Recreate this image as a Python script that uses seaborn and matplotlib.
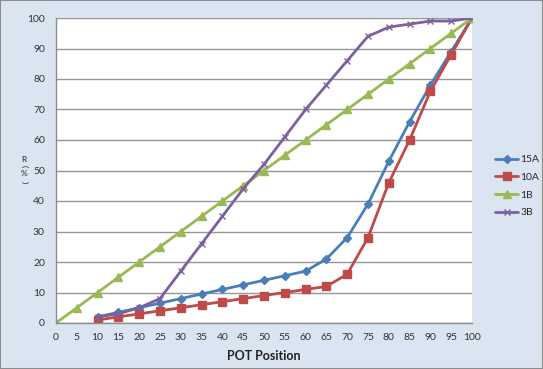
import numpy as np
import pandas as pd
import matplotlib
matplotlib.use("Agg")
import matplotlib.pyplot as plt
import seaborn as sns
from matplotlib.patches import Rectangle
from matplotlib.lines import Line2D

# ---- data ----
x_15a = [10, 15, 20, 25, 30, 35, 40, 45, 50, 55, 60, 65, 70, 75, 80, 85, 90, 95, 100]
y_15a = [2, 3.5, 5, 6.5, 8, 9.5, 11, 12.5, 14, 15.5, 17, 21, 28, 39, 53, 66, 78, 89, 100]
x_10a = [10, 15, 20, 25, 30, 35, 40, 45, 50, 55, 60, 65, 70, 75, 80, 85, 90, 95, 100]
y_10a = [1, 2, 3, 4, 5, 6, 7, 8, 9, 10, 11, 12, 16, 28, 46, 60, 76, 88, 100]
x_1b = [0, 5, 10, 15, 20, 25, 30, 35, 40, 45, 50, 55, 60, 65, 70, 75, 80, 85, 90, 95, 100]
y_1b = [0, 5, 10, 15, 20, 25, 30, 35, 40, 45, 50, 55, 60, 65, 70, 75, 80, 85, 90, 95, 100]
x_3b = [10, 15, 20, 25, 30, 35, 40, 45, 50, 55, 60, 65, 70, 75, 80, 85, 90, 95, 100]
y_3b = [2, 3, 5, 8, 17, 26, 35, 44, 52, 61, 70, 78, 86, 94, 97, 98, 99, 99, 100]
series_names = ["15A", "10A", "1B", "3B"]
x_ticks = list(range(0, 101, 5))
y_ticks = list(range(0, 101, 10))

frames = []
for name, xs, ys in zip(series_names, [x_15a, x_10a, x_1b, x_3b], [y_15a, y_10a, y_1b, y_3b]):
    frames.append(pd.DataFrame({"x": xs, "y": ys, "series": name}))
df = pd.concat(frames, ignore_index=True)

palette = {"15A": "#4a7ebb", "10A": "#be4b48", "1B": "#98b954", "3B": "#7d60a0"}
markers = {"15A": "D", "10A": "s", "1B": "^", "3B": "x"}
msizes = {"15A": 4.5, "10A": 6, "1B": 5.5, "3B": 5}

sns.set_theme(style="white")
plt.rcParams["font.family"] = ["Lato", "DejaVu Sans"]

fig = plt.figure(figsize=(5.43, 3.69), dpi=100)
bg = "#dbe5f1"
fig.patch.set_facecolor(bg)
fig.patches.append(Rectangle((0, 0), 1, 1, transform=fig.transFigure, fill=False,
                             edgecolor="#8c8c8c", linewidth=1.5))

W, H = 543, 369
left, right, top, bottom = 56, 472, 18, 323
ax = fig.add_axes([left / W, 1 - bottom / H, (right - left) / W, (bottom - top) / H])
ax.set_facecolor("white")

for name in series_names:
    sub = df[df["series"] == name]
    sns.lineplot(data=sub, x="x", y="y", color=palette[name], marker=markers[name],
                 markersize=msizes[name], markeredgecolor=palette[name],
                 markeredgewidth=1, linewidth=2, ax=ax, legend=False, sort=False)

ax.set_xlim(0, 100)
ax.set_ylim(0, 100)
ax.set_xticks(x_ticks)
ax.set_yticks(y_ticks)
ax.yaxis.grid(True, color="#969696", linewidth=1)
ax.xaxis.grid(False)
ax.set_axisbelow(True)
for s in ["top", "right"]:
    ax.spines[s].set_visible(False)
for s in ["left", "bottom"]:
    ax.spines[s].set_color("#8c8c8c")
    ax.spines[s].set_linewidth(1)
ax.tick_params(axis="both", which="major", direction="out", length=4, width=1,
               color="#8c8c8c", labelsize=7.5, labelcolor="#333333")
ax.tick_params(axis="x", pad=3)
ax.tick_params(axis="y", pad=4)
ax.set_xlabel("POT Position", fontsize=9, fontweight="bold", labelpad=6, color="#222222")
ax.set_ylabel("")

# stacked vertical y label "R(%)"
lx = 24 / W
fig.text(lx, 1 - 159 / H, "R", fontsize=6, ha="center", va="center", color="#222222")
fig.text(lx, 1 - 166 / H, "(", fontsize=6, ha="center", va="center", rotation=-90, color="#222222")
fig.text(lx, 1 - 174 / H, "%", fontsize=6, ha="center", va="center", color="#222222")
fig.text(lx, 1 - 182 / H, ")", fontsize=6, ha="center", va="center", rotation=-90, color="#222222")

# legend
handles = [Line2D([0], [0], color=palette[n], marker=markers[n], linewidth=2,
                  markersize=msizes[n], markeredgecolor=palette[n])
           for n in series_names]
fig.legend(handles, series_names, loc="upper left",
           bbox_to_anchor=(490 / W, 1 - 150 / H), frameon=False, fontsize=7.5,
           handlelength=2.2, handletextpad=0.2, labelspacing=0.8, borderpad=0)

fig.savefig("out.png", dpi=100, facecolor=bg)
